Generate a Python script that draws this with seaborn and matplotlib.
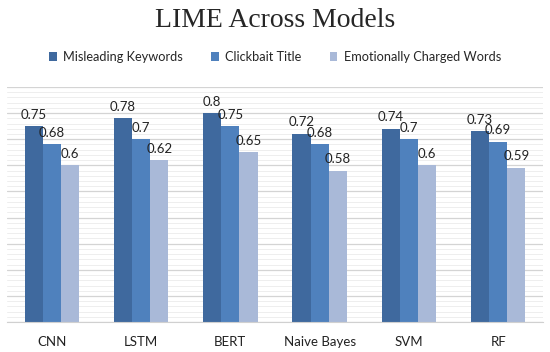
import pandas as pd
import matplotlib.pyplot as plt
import seaborn as sns
from matplotlib.ticker import MultipleLocator

# Data
models = ['CNN', 'LSTM', 'BERT', 'Naive Bayes', 'SVM', 'RF']
misleading = [0.75, 0.78, 0.8, 0.72, 0.74, 0.73]
clickbait = [0.68, 0.7, 0.75, 0.68, 0.7, 0.69]
emotional = [0.6, 0.62, 0.65, 0.58, 0.6, 0.59]
series = ['Misleading Keywords', 'Clickbait Title', 'Emotionally Charged Words']
colors = ['#3F699E', '#4F81BD', '#A9B9D8']

df = pd.DataFrame({'model': models, series[0]: misleading,
                   series[1]: clickbait, series[2]: emotional})
long_df = df.melt(id_vars='model', var_name='feature', value_name='score')

sns.set_style('white')
plt.rcParams['font.family'] = ['Lato', 'DejaVu Sans']

fig = plt.figure(figsize=(5.5, 3.52), dpi=100)
ax = fig.add_axes([0.013, 0.085, 0.974, 0.668])

sns.barplot(data=long_df, x='model', y='score', hue='feature', hue_order=series,
            palette=colors, width=0.61, gap=0, saturation=1, linewidth=0, ax=ax)

for cont in ax.containers:
    ax.bar_label(cont, labels=[f'{v:g}' for v in cont.datavalues],
                 padding=4, fontsize=9.5, color='#222222')

ax.set_ylim(0, 0.9)
ax.yaxis.set_major_locator(MultipleLocator(0.1))
ax.yaxis.set_minor_locator(MultipleLocator(0.02))
ax.grid(axis='y', which='major', color='#D4D4D4', linewidth=0.9)
ax.grid(axis='y', which='minor', color='#EEEEEE', linewidth=0.7)
ax.set_axisbelow(True)
ax.set_yticklabels([])
ax.tick_params(axis='y', which='both', length=0)
ax.tick_params(axis='x', length=0, labelsize=9.5, pad=10, colors='#222222')
ax.set_xlabel('')
ax.set_ylabel('')
for s in ['left', 'right', 'top']:
    ax.spines[s].set_visible(False)
ax.spines['bottom'].set_color('#D0D0D0')

ax.get_legend().remove()
handles = [plt.Rectangle((0, 0), 1, 1, color=c, linewidth=0) for c in colors]
fig.legend(handles, series, loc='center', bbox_to_anchor=(0.5, 0.838), ncol=3,
           frameon=False, fontsize=9.2, handlelength=0.6, handleheight=0.6,
           handletextpad=0.5, columnspacing=2.2)

fig.text(0.5, 0.923, 'LIME Across Models', ha='center', va='baseline',
         fontsize=20, family='Liberation Serif')

fig.savefig('out.png', dpi=100)
